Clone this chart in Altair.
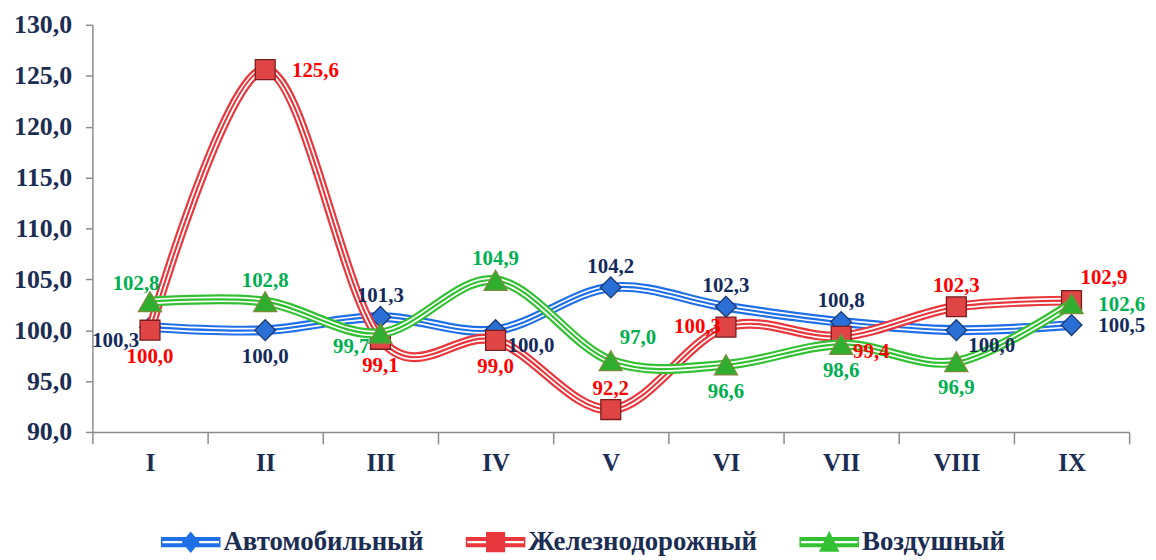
import altair as alt
import pandas as pd

months = ["I", "II", "III", "IV", "V", "VI", "VII", "VIII", "IX"]
series_names = ["Автомобильный", "Железнодорожный", "Воздушный"]
auto = [100.3, 100.0, 101.3, 100.0, 104.2, 102.3, 100.8, 100.0, 100.5]
rail = [100.0, 125.6, 99.1, 99.0, 92.2, 100.3, 99.4, 102.3, 102.9]
air = [102.8, 102.8, 99.7, 104.9, 97.0, 96.6, 98.6, 96.9, 102.6]
# label placement codes relative to each point
auto_lab = ["LB", "B", "A", "RB", "A", "A", "A", "RB", "R"]
rail_lab = ["B", "R", "B", "B", "A", "L", "RB", "A", "AR"]
air_lab = ["AL", "A", "LB", "A", "AR", "B", "B", "B", "R"]
y_ticks = [90, 95, 100, 105, 110, 115, 120, 125, 130]

FONT = "Liberation Serif"
NAVY = "#1b2d52"
line_colors = ["#1f6fe8", "#e8383d", "#33c133"]
label_colors = ["#142a5c", "#ff0000", "#00b050"]
marker_fill = ["#2a6fd6", "#e04545", "#2fae2f"]
marker_stroke = ["#1c3a73", "#7a1c1c", "#7d8a3c"]
shapes = ["diamond", "square", "triangle-up"]
sizes = [440, 400, 540]

rows = []
for name, vals, labs in zip(series_names, [auto, rail, air], [auto_lab, rail_lab, air_lab]):
    for m, v, p in zip(months, vals, labs):
        rows.append({"month": m, "series": name, "value": v, "pos": p})
df = pd.DataFrame(rows)

x_enc = alt.X("month:N", sort=months, bandPosition=0.5,
              scale=alt.Scale(type="band", paddingInner=0, paddingOuter=0),
              axis=alt.Axis(title=None, tickBand="extent", tickSize=12, labelFontSize=25,
                            labelPadding=7, labelAngle=0, grid=False))
y_enc = alt.Y("value:Q", scale=alt.Scale(domain=[90, 130], nice=False, zero=False),
              axis=alt.Axis(title=None, values=y_ticks, tickSize=7, labelPadding=14, grid=False,
                            labelFontSize=26,
                            labelExpr="replace(format(datum.value, '.1f'), '.', ',')"))

base = alt.Chart(df).encode(x=x_enc, y=y_enc)

label_styles = {
    "A": dict(align="center", dx=0, dy=-21),
    "AL": dict(align="center", dx=-14, dy=-18),
    "AR": dict(align="left", dx=9, dy=-23),
    "B": dict(align="center", dx=0, dy=27),
    "L": dict(align="right", dx=-5, dy=0),
    "R": dict(align="left", dx=27, dy=1),
    "LB": dict(align="right", dx=-11, dy=14),
    "RB": dict(align="left", dx=12, dy=16),
}

layers = []
for i, name in enumerate(series_names):
    s = base.transform_filter(alt.datum.series == name)
    layers.append(s.mark_line(interpolate="cardinal", stroke=line_colors[i], strokeWidth=10))
    layers.append(s.mark_line(interpolate="cardinal", stroke="white", strokeWidth=5.6))
    layers.append(s.mark_line(interpolate="cardinal", stroke=line_colors[i], strokeWidth=2.2))
    layers.append(s.mark_point(shape=shapes[i], filled=True, size=sizes[i], fill=marker_fill[i],
                               stroke=marker_stroke[i], strokeWidth=1.3, opacity=1))

for i, name in enumerate(series_names):
    for code, st in label_styles.items():
        t = base.transform_filter(
            (alt.datum.series == name) & (alt.datum.pos == code)
        ).transform_calculate(
            lab="replace(format(datum.value, '.1f'), '.', ',')"
        ).mark_text(font=FONT, fontWeight="bold", fontSize=21, baseline="middle",
                    color=label_colors[i], **st).encode(text="lab:N")
        layers.append(t)

# legend symbols: double bar + marker
def bar_path(marker):
    bars = ("M-1,-0.17 L1,-0.17 L1,-0.04 L-1,-0.04 Z "
            "M-1,0.04 L1,0.04 L1,0.17 L-1,0.17 Z "
            "M-1,-0.17 L-0.95,-0.17 L-0.95,0.17 L-1,0.17 Z "
            "M0.95,-0.17 L1,-0.17 L1,0.17 L0.95,0.17 Z ")
    return bars + marker

legend_paths = [
    bar_path("M0,-0.36 L0.3,0 L0,0.36 L-0.3,0 Z"),
    bar_path("M-0.32,-0.34 L0.32,-0.34 L0.32,0.34 L-0.32,0.34 Z"),
    bar_path("M0,-0.38 L0.34,0.32 L-0.34,0.32 Z"),
]

leg = alt.Legend(title=None, orient="none", legendX=69, legendY=491, direction="horizontal",
                 symbolSize=3600, symbolStrokeWidth=0, labelFont=FONT, labelFontWeight="bold",
                 labelFontSize=27, labelColor=NAVY, labelOffset=3, columnPadding=42,
                 labelLimit=400, symbolOpacity=1)
legend_layer = base.transform_filter("datum.value < 0").mark_point(filled=True, opacity=1).encode(
    fill=alt.Fill("series:N", scale=alt.Scale(domain=series_names, range=line_colors), legend=leg),
    shape=alt.Shape("series:N", scale=alt.Scale(domain=series_names, range=legend_paths), legend=leg),
)
layers.append(legend_layer)

chart = alt.layer(*layers).properties(
    width=1044, height=410,
    autosize=alt.AutoSizeParams(type="none"),
    padding={"left": 85, "top": 15, "right": 19, "bottom": 125},
).configure_view(stroke=None).configure_axis(
    labelFont=FONT, labelFontWeight="bold", labelColor=NAVY,
    domainColor="#8c8c8c", tickColor="#8c8c8c", domainWidth=1.5, tickWidth=1.5,
)

chart.save("out.html", embed_options={"renderer": "svg", "actions": False})
